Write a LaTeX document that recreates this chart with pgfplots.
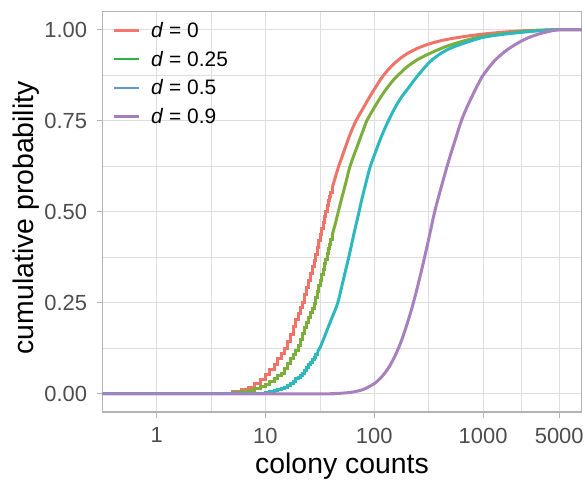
\documentclass[border=0pt]{standalone}
\usepackage{pgfplots}
\pgfplotsset{compat=1.18}
\usepackage{fontspec}
\setmainfont{Liberation Sans}
\definecolor{cR}{HTML}{F0736A}
\definecolor{cG}{HTML}{7CAE3C}
\definecolor{cT}{HTML}{2DB8BD}
\definecolor{cP}{HTML}{A780BD}
\definecolor{lR}{HTML}{F3776E}
\definecolor{lG}{HTML}{2DB34A}
\definecolor{lB}{HTML}{6495D0}
\definecolor{lP}{HTML}{A67DBE}
\definecolor{gridc}{HTML}{DEDEDE}
\definecolor{borderc}{HTML}{B3B3B3}
\definecolor{tickc}{HTML}{4D4D4D}
\begin{document}
\begin{tikzpicture}[x=1bp,y=1bp]
\useasboundingbox (0,0) rectangle (585,480);
\begin{axis}[
  at={(102.5bp,68bp)}, anchor=south west,
  scale only axis, width=479bp, height=400.5bp,
  xmode=log, xmin=0.3184, xmax=8017, ymin=-0.05, ymax=1.05,
  xtick={1,10,100,1000,5000}, xticklabels={1,10,100,1000,5000},
  minor xtick={3.162,31.62,316.2,2236},
  ytick={0,0.25,0.5,0.75,1}, yticklabels={0.00,0.25,0.50,0.75,1.00},
  minor ytick={0.125,0.375,0.625,0.875},
  grid=both,
  major grid style={draw=gridc, line width=1.2bp},
  minor grid style={draw=gridc, line width=0.7bp},
  axis line style={draw=borderc, line width=1.5bp},
  tick align=outside, xtick pos=bottom, ytick pos=left,
  major tick length=6bp, minor tick length=0pt,
  major tick style={draw=borderc, line width=1.2bp},
  ticklabel style={font=\fontsize{22}{25}\selectfont, text=tickc, inner sep=0pt},
  xticklabel style={anchor=north, yshift=-9.7bp},
  yticklabel style={anchor=east, xshift=-9.2bp},
  xlabel={colony counts},
  xlabel style={at={(axis description cs:0.5,-0.1548)}, anchor=base, font=\fontsize{28.5}{31}\selectfont, inner sep=0pt},
  ylabel={cumulative probability},
  ylabel style={at={(axis description cs:-0.1445,0.485)}, anchor=base, font=\fontsize{28.5}{31}\selectfont, inner sep=0pt},
  legend cell align=left,
  legend style={at={(axis description cs:0.0213,0.973)}, anchor=north west, draw=none, fill=none, inner sep=0pt, row sep=8.7bp, column sep=11bp, font=\fontsize{21}{24}\selectfont, nodes={inner sep=0pt, text height=15bp, text depth=5bp}},
  legend image code/.code={\draw[#1, line width=2.3bp] (0bp,2bp) -- (25bp,2bp);},
]
% d = 0 (red)
\addplot[cR, line width=3bp, const plot, forget plot] coordinates {
(0.3,0) (1,0) (2,0) (3,0.0005) (4,0.0015) (5,0.006) (6,0.011) (7,0.018) (8,0.027) (9,0.038)
(10,0.052) (11,0.066) (12,0.081) (13,0.096) (14,0.111) (15,0.125) (16,0.144) (17,0.164) (18,0.184) (19,0.203)
(20,0.220) (21,0.236) (22,0.251) (23,0.273) (24,0.292) (25,0.312) (26,0.331) (27,0.349) (28,0.366) (29,0.383)
(30,0.402) (31,0.420) (32,0.437) (33,0.455) (34,0.470) (35,0.486) (36,0.501) (37,0.516) (38,0.530) (39,0.543)
(40,0.554) (41,0.565)};
\addplot[cR, line width=3bp, smooth, forget plot] coordinates {
(41,0.565) (44,0.596) (47,0.624) (50,0.647) (55,0.682) (60,0.713) (68,0.750) (80,0.787) (90,0.814) (100,0.836)
(117,0.868) (135,0.891) (155,0.909) (175,0.922) (200,0.934) (250,0.949) (320,0.961) (400,0.969) (500,0.975)
(700,0.982) (1000,0.988) (1500,0.993) (2300,0.997) (3500,0.999) (5000,1) (8100,1)};
% d = 0.25 (green)
\addplot[cG, line width=3bp, const plot, forget plot] coordinates {
(0.3,0) (1,0) (2,0) (3,0.0002) (4,0.001) (5,0.003) (6,0.0065) (7,0.010) (8,0.014) (9,0.019)
(10,0.026) (11,0.034) (12,0.042) (13,0.050) (14,0.057) (15,0.070) (16,0.084) (17,0.096) (18,0.108) (19,0.120)
(20,0.134) (21,0.150) (22,0.166) (23,0.181) (24,0.195) (25,0.209) (26,0.223) (27,0.235) (28,0.248) (29,0.264)
(30,0.281) (31,0.297) (32,0.312) (33,0.328) (34,0.342) (35,0.357) (36,0.370) (37,0.384) (38,0.398) (39,0.411)
(40,0.423) (41,0.435)};
\addplot[cG, line width=3bp, smooth, forget plot] coordinates {
(41,0.435) (44,0.469) (47,0.503) (50,0.535) (55,0.582) (60,0.626) (70,0.681) (80,0.728) (85,0.749) (100,0.786)
(120,0.824) (150,0.862) (175,0.882) (200,0.898) (250,0.918) (320,0.934) (400,0.947) (500,0.958) (700,0.971)
(1000,0.982) (1500,0.989) (2300,0.995) (3500,0.998) (5000,1) (8100,1)};
% d = 0.5 (teal)
\addplot[cT, line width=3bp, const plot, forget plot] coordinates {
(0.3,0) (1,0) (5,0) (8,0.001) (9,0.002) (10,0.003) (11,0.005) (12,0.008) (13,0.011) (14,0.015)
(15,0.018) (16,0.022) (17,0.029) (18,0.035) (19,0.041) (20,0.046) (21,0.051) (22,0.056) (23,0.064) (24,0.072)
(25,0.080) (26,0.087) (27,0.094) (28,0.101) (29,0.108) (30,0.115)};
\addplot[cT, line width=3bp, smooth, forget plot] coordinates {
(30,0.115) (32,0.129) (35,0.158) (40,0.202) (46,0.248) (50,0.292) (55,0.344) (58,0.372) (62,0.411) (66,0.448)
(72,0.496) (76,0.528) (82,0.568) (91,0.620) (100,0.655) (115,0.703) (130,0.740) (145,0.769) (160,0.793)
(180,0.817) (200,0.835) (245,0.870) (320,0.910) (400,0.933) (500,0.949) (700,0.965) (1000,0.979) (1500,0.987)
(2300,0.993) (3500,0.998) (5000,1) (8100,1)};
% d = 0.9 (purple)
\addplot[cP, line width=3bp, smooth, forget plot] coordinates {
(0.3,0) (30,0) (39.8,0.0005) (50.1,0.0016) (63.1,0.0047) (79.4,0.012) (100,0.028) (112.2,0.041) (125.9,0.058)
(141.3,0.081) (158.5,0.110) (177.8,0.146) (199.5,0.190) (223.9,0.240) (251.2,0.297) (281.8,0.359) (316.2,0.425)
(358.9,0.500) (398.1,0.551) (446.7,0.605) (501.2,0.656) (562.3,0.703) (631.0,0.750) (707.9,0.786) (794.3,0.818)
(891.3,0.848) (1000,0.875) (1258.9,0.913) (1584.9,0.940) (1995.3,0.960) (2511.9,0.976) (3162.3,0.987)
(3981.1,0.995) (5011.9,1) (8100,1)};
\addlegendimage{lR}
\addlegendentry{\textit{d} = 0}
\addlegendimage{lG}
\addlegendentry{\textit{d} = 0.25}
\addlegendimage{lB}
\addlegendentry{\textit{d} = 0.5}
\addlegendimage{lP}
\addlegendentry{\textit{d} = 0.9}
\end{axis}
\end{tikzpicture}
\end{document}
